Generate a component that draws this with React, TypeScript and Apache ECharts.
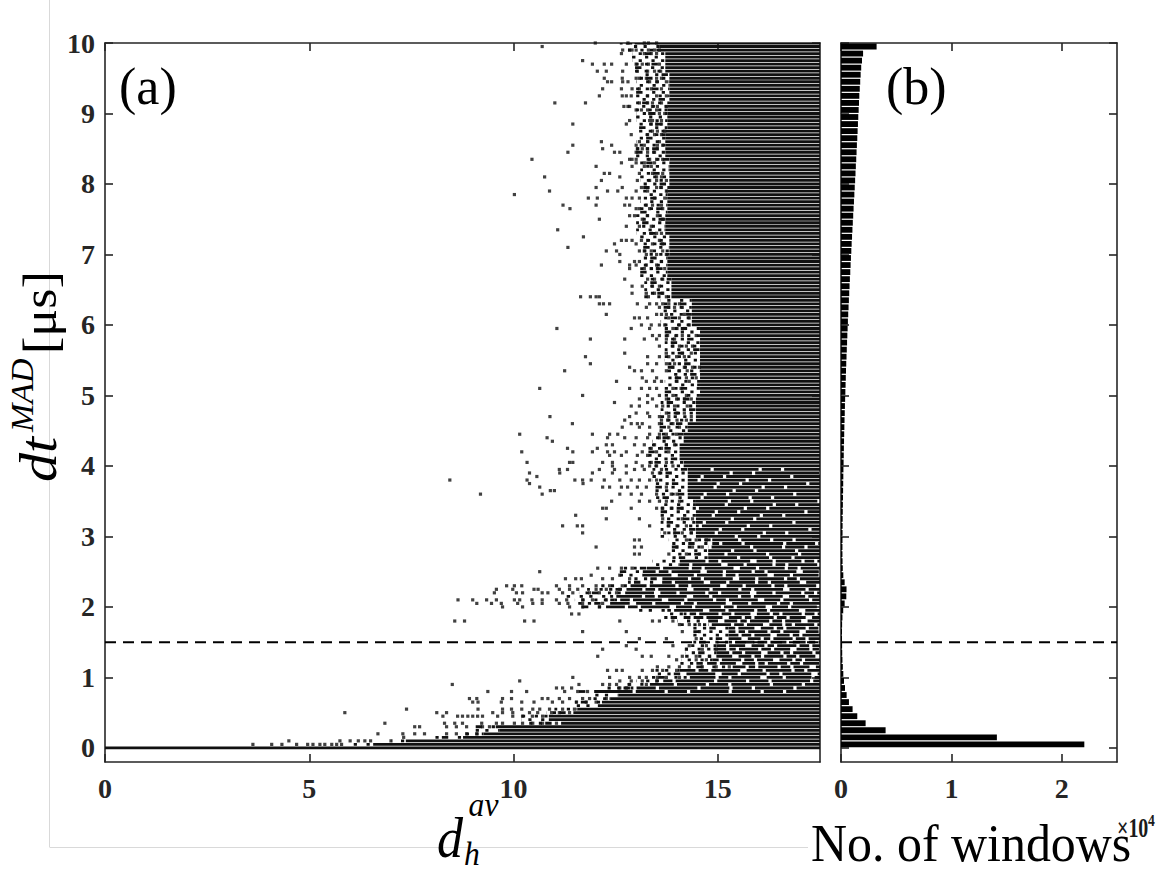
import React, { useEffect, useRef } from "react";
import * as echarts from "echarts";

// ---------- axis ticks ----------
const yTicks = [0, 1, 2, 3, 4, 5, 6, 7, 8, 9, 10];
const xTicksA = [0, 5, 10, 15];
const xTicksB = [0, 10000, 20000];
const X_MAX_A = 17.5;
const X_MAX_B = 25000;
const Y_MIN = -0.2;
const Y_MAX = 10;
const threshold = 1.5;

// ---------- panel (a): dense block, left edge per dt level (step function) ----------
const ROW = 0.05; // dt resolution of the data (rows of the dense block)
const denseY = [
  0.0, 0.05, 0.1, 0.15, 0.2, 0.25, 0.3, 0.35, 0.4, 0.5, 0.55, 0.6, 0.65, 0.7, 0.75, 0.8, 0.85, 0.9,
  0.95, 1.0, 1.1, 1.15, 1.2, 1.25, 1.3, 1.5, 1.75, 1.85, 1.95, 2.0, 2.05, 2.1, 2.15, 2.2, 2.25,
  2.3, 2.35, 2.45, 2.55, 2.6, 2.7, 2.9, 3.0, 3.55, 4.0, 4.1, 4.35, 4.5, 4.65, 5.0, 6.0, 6.4, 6.7,
  7.0, 7.3, 7.6, 8.0, 8.4, 8.8, 9.2, 9.6, 9.9, 10.0,
];
// left edge of the (nearly) fully occupied block
const denseX = [
  0.0, 6.6, 7.4, 8.8, 9.3, 9.7, 9.6, 11.2, 10.9, 11.5, 11.6, 12.1, 12.2, 12.4, 12.6, 12.0, 12.9, 13.4,
  13.7, 14.2, 14.1, 15.4, 14.7, 14.9, 15.0, 15.3, 14.8, 14.2, 13.8, 12.3, 12.4, 12.5, 12.4, 12.7, 12.8,
  12.9, 13.6, 13.2, 13.3, 14.1, 14.8, 14.9, 14.5, 14.3, 14.2, 14.1, 14.2, 14.3, 14.5, 14.6, 14.4, 13.9, 13.8,
  13.85, 13.75, 13.8, 13.85, 13.75, 13.8, 13.85, 13.75, 13.6, 13.0,
];
// left edge of the partly occupied margin in front of the block
const mixedX = [
  0.0, 6.0, 7.0, 8.0, 8.6, 9.0, 9.0, 10.3, 10.2, 10.8, 11.0, 11.4, 11.5, 11.8, 12.0, 11.6, 12.3, 12.7,
  13.0, 13.3, 13.4, 14.4, 14.0, 14.1, 14.2, 14.4, 14.0, 13.6, 13.0, 11.6, 11.5, 11.5, 11.3, 11.6, 11.8,
  12.0, 12.8, 12.6, 12.7, 13.4, 13.8, 13.8, 13.6, 13.4, 13.3, 13.3, 13.4, 13.5, 13.6, 13.7, 13.6, 13.2, 13.1,
  13.1, 13.0, 13.1, 13.1, 13.0, 13.0, 13.0, 12.9, 12.8, 12.6,
];
// share of the block that is occupied (the rest are empty cells) in each band
const denseFill = [
  1, 1, 1, 1, 1, 1, 1, 1, 1, 1, 1, 1, 1, 1, 1, 0.9, 0.9, 0.9,
  0.9, 0.85, 0.85, 0.75, 0.75, 0.75, 0.75, 0.75, 0.75, 0.75, 0.85, 0.85, 0.85, 0.85, 0.85, 0.85, 0.85,
  0.85, 0.85, 0.85, 0.85, 0.85, 0.9, 0.9, 0.95, 0.95, 1, 1, 1, 1, 1, 1, 1, 1, 1,
  1, 1, 1, 1, 1, 1, 1, 1, 1, 1,
];

// ---------- panel (a): scattered windows outside the dense block [dt, d_h values] ----------
const fringe: [number, number[]][] = [
  [10.0, [12.0, 12.8, 13.2, 13.3, 13.5]],
  [9.95, [10.7]],
  [9.9, [12.67, 12.84, 12.9, 13.0, 13.3, 13.45, 13.57]],
  [9.85, [12.64, 13.2, 13.37, 13.5]],
  [9.75, [11.69]],
  [9.7, [11.93, 12.22, 12.4, 12.76, 13.0, 13.15, 13.3, 13.57]],
  [9.6, [12.05, 12.27, 12.67, 13.03, 13.28, 13.45, 13.6]],
  [9.5, [12.22, 12.66, 13.0, 13.08, 13.25, 13.5, 13.62]],
  [9.45, [12.3, 12.4, 12.67, 12.8, 13.33, 13.5, 13.74]],
  [9.35, [12.18, 12.64, 12.9, 13.08, 13.37, 13.62]],
  [9.25, [12.1, 12.66, 12.76, 12.88, 13.28, 13.5, 13.74]],
  [9.15, [11.01, 11.76, 13.08, 13.28, 13.4, 13.62]],
  [9.1, [12.7, 12.8, 12.84, 13.4, 13.52, 13.74]],
  [9.05, [13.0, 13.13, 13.28, 13.5]],
  [9.0, [13.33, 13.57, 13.7]],
  [8.9, [12.84, 13.33, 13.4, 13.62]],
  [8.85, [11.45, 12.76, 13.37, 13.5, 13.62]],
  [8.75, [13.4, 13.52, 13.7]],
  [8.7, [12.88, 13.28, 13.45, 13.62]],
  [8.6, [12.15, 13.08, 13.28, 13.57]],
  [8.55, [11.45, 12.4, 13.0, 13.2, 13.52, 13.65]],
  [8.5, [12.18, 13.03, 13.15, 13.28, 13.52]],
  [8.45, [11.33, 12.47, 12.6, 13.0, 13.28, 13.45]],
  [8.35, [10.45, 12.84, 12.9, 13.0, 13.33, 13.5, 13.65]],
  [8.3, [12.64, 13.0, 13.2, 13.45]],
  [8.25, [12.02, 12.9, 13.2, 13.37]],
  [8.15, [12.22, 12.35, 13.08, 13.4, 13.65]],
  [8.1, [10.76, 12.6, 13.5, 13.62]],
  [8.05, [12.15, 13.03, 13.33, 13.5, 13.74]],
  [7.95, [12.02, 12.66, 13.13, 13.5, 13.62]],
  [7.9, [10.88, 12.3, 12.55, 13.0, 13.28, 13.74]],
  [7.85, [10.02]],
  [7.8, [11.83, 12.05, 12.76, 12.9, 13.08, 13.45, 13.7]],
  [7.7, [11.21, 12.02, 12.72, 12.84, 13.25, 13.4, 13.62]],
  [7.65, [11.38, 13.0, 13.08, 13.33, 13.65]],
  [7.55, [12.84, 12.96, 13.28, 13.52]],
  [7.5, [12.1, 13.15, 13.65]],
  [7.4, [12.76, 13.08, 13.37]],
  [7.35, [11.08]],
  [7.3, [13.37, 13.5, 13.62]],
  [7.25, [11.71]],
  [7.2, [12.64, 12.76, 12.9, 13.13, 13.28, 13.57]],
  [7.15, [12.47, 13.0, 13.4, 13.65]],
  [7.1, [11.33]],
  [7.05, [12.27, 12.52, 13.08, 13.2, 13.37, 13.65]],
  [7.0, [12.6, 13.25, 13.5, 13.74]],
  [6.9, [12.6, 12.96, 13.08, 13.37, 13.62]],
  [6.85, [12.15, 12.84, 13.0, 13.25, 13.5]],
  [6.8, [12.84, 13.2, 13.37, 13.52, 13.7]],
  [6.65, [12.72, 13.28, 13.45, 13.65]],
  [6.55, [12.9, 13.15, 13.4, 13.57]],
  [6.45, [12.9, 13.25, 13.45, 13.65]],
  [6.4, [11.64, 11.88, 12.02, 12.1, 13.3, 13.74]],
  [6.3, [12.1, 12.2, 12.35, 13.03, 13.33, 13.5, 13.65, 13.8, 14.06]],
  [6.25, [13.25, 13.57, 13.8, 13.94, 14.13]],
  [6.15, [12.27, 13.5, 13.62, 13.74, 14.18]],
  [6.1, [12.96, 13.08, 13.28, 13.8, 14.06, 14.3]],
  [6.0, [13.13, 13.37, 13.57, 13.7, 14.06, 14.3]],
  [5.95, [11.06, 12.88, 13.33, 13.9, 14.0, 14.18]],
  [5.85, [13.4, 13.57, 13.77, 13.99, 14.13, 14.47]],
  [5.8, [11.88, 12.72, 13.2, 13.5, 13.74, 13.94]],
  [5.7, [13.57, 13.9, 14.06, 14.23, 14.38]],
  [5.6, [12.72, 13.74, 14.13, 14.35]],
  [5.55, [11.76, 13.28, 13.57, 13.8, 13.99, 14.18]],
  [5.45, [11.88, 13.28, 13.5, 13.74, 13.94]],
  [5.4, [12.84, 13.9, 14.18, 14.38, 14.55]],
  [5.35, [11.25, 12.96, 13.13, 13.4, 13.74, 14.06, 14.25]],
  [5.25, [13.15, 13.5, 13.99, 14.23, 14.47]],
  [5.2, [12.52, 13.25, 13.45, 13.62, 14.0, 14.3]],
  [5.1, [10.64, 12.84, 13.13, 13.33, 13.5, 13.9, 14.1]],
  [5.0, [11.69, 13.28, 13.57, 13.9, 14.23]],
  [4.95, [13.08, 13.4, 13.74, 13.99, 14.18, 14.35]],
  [4.9, [12.47, 13.28, 13.8]],
  [4.85, [12.88, 13.08, 13.5, 13.65, 13.94, 14.25]],
  [4.75, [13.0, 13.28, 13.74, 14.0, 14.18]],
  [4.7, [10.89, 12.84, 13.33, 13.57, 13.8, 14.35]],
  [4.65, [12.72, 13.62, 13.77, 14.0, 14.23]],
  [4.6, [11.44, 12.88, 13.03, 13.15, 13.57, 13.9]],
  [4.55, [12.66, 13.08, 13.33, 13.8, 14.06]],
  [4.45, [10.15, 11.93, 12.35, 12.55, 13.33, 13.57, 13.74, 13.99]],
  [4.4, [10.82, 12.3, 12.72, 13.0, 13.28, 13.57, 13.8]],
  [4.35, [10.95]],
  [4.3, [12.27, 12.42, 12.96, 13.2, 13.45, 13.74, 13.94]],
  [4.25, [11.32, 12.05, 13.37, 13.62]],
  [4.2, [10.2, 11.45, 11.93, 12.3, 12.47, 12.76, 13.15, 13.5, 13.8]],
  [4.15, [12.35, 12.64, 13.03, 13.28, 13.57]],
  [4.05, [10.33, 11.37, 11.45, 12.18, 12.42, 13.0, 13.37, 13.74]],
  [4.0, [12.42, 12.76, 13.15, 13.33, 13.5, 13.9]],
  [3.95, [11.12, 11.32, 12.1, 12.47, 12.96, 13.2, 13.62]],
  [3.9, [10.39, 11.13, 11.93, 12.42, 12.76, 13.4, 13.57]],
  [3.85, [10.57]],
  [3.8, [8.44, 10.33, 11.5, 11.69, 11.9, 12.22, 12.6, 12.88, 13.08, 13.33, 13.5]],
  [3.75, [10.39, 11.7]],
  [3.7, [10.64, 12.18, 12.35, 12.64, 12.79, 13.03, 13.25, 13.74]],
  [3.65, [10.9, 11.0]],
  [3.6, [9.19, 10.7, 12.6, 12.88, 13.13, 13.5, 13.86, 14.0]],
  [3.5, [12.4, 13.08, 13.33, 13.57, 13.74, 14.06]],
  [3.4, [12.18, 12.27, 12.88, 13.5, 13.65, 13.86, 14.13]],
  [3.3, [11.52]],
  [3.25, [12.27, 13.08, 13.65, 14.13, 14.38]],
  [3.15, [11.2, 11.56, 11.69, 13.33, 13.8, 14.0, 14.23]],
  [3.05, [11.69, 13.7, 13.94, 14.13, 14.35]],
  [2.95, [12.96, 13.08, 14.23, 14.47, 14.72]],
  [2.85, [12.02, 12.96, 13.13, 14.0, 14.38, 14.62]],
  [2.75, [12.96, 13.08, 13.8, 14.23, 14.55]],
  [2.55, [12.06, 12.35, 12.64, 12.9]],
  [2.5, [10.64]],
  [2.45, [11.9, 12.6]],
  [2.4, [11.27, 11.52, 11.66, 12.18, 12.42, 12.84]],
  [2.3, [9.83, 10.02, 10.2, 11.05, 11.37, 11.69, 12.02, 12.35, 12.66]],
  [2.25, [9.58, 9.98, 10.5, 10.6, 11.12, 11.37, 11.57, 12.02, 12.27, 12.6]],
  [2.2, [9.53, 10.07, 10.22, 10.7, 10.84, 11.2, 11.45, 11.86, 12.1, 12.52]],
  [2.1, [8.64, 9.0, 9.34, 9.58, 10.02, 10.15, 10.45, 10.7, 11.05, 11.3, 11.69, 11.93, 12.27]],
  [2.05, [9.1, 9.46, 9.7, 10.1, 10.47, 10.7, 11.12, 11.33, 11.69, 12.18]],
  [2.0, [9.73, 10.22, 11.37, 11.69, 12.1]],
  [1.9, [11.42, 11.6]],
  [1.8, [8.56, 8.8, 10.27, 10.5, 12.6, 13.4, 13.57, 13.9]],
  [1.75, [14.06, 14.3, 14.55]],
  [1.65, [11.69, 12.76, 14.13, 14.55]],
  [1.55, [13.08, 13.74, 14.47]],
  [1.45, [12.76, 13.9, 14.3, 14.72]],
  [1.4, [12.18, 13.0, 14.23, 14.62, 14.96]],
  [1.3, [12.06, 13.15, 13.37, 13.8, 14.13, 14.47, 14.8]],
  [1.25, [13.99, 14.47, 14.72]],
  [1.15, [13.52, 13.8, 14.06, 14.3, 14.62, 14.96, 15.28]],
  [1.1, [12.3, 12.52, 12.66, 13.15, 13.4, 13.65, 13.99]],
  [1.0, [11.45, 12.35, 12.84, 13.08, 13.25, 13.52, 13.74, 14.06]],
  [0.95, [10.15, 12.6, 12.88, 13.15, 13.5]],
  [0.9, [8.5, 11.6, 12.18, 12.35, 12.52, 12.84, 13.25]],
  [0.85, [11.05, 11.2, 11.42, 12.6, 12.76]],
  [0.8, [9.37, 9.95, 10.32, 11.25, 11.57, 11.81]],
  [0.7, [8.92, 9.1, 9.73, 9.95, 10.7, 10.84, 11.12, 11.37, 11.69, 11.86, 12.27]],
  [0.65, [9.0, 9.13, 9.7, 10.2, 10.5, 10.95, 11.2, 11.54, 11.78, 12.02]],
  [0.55, [7.38, 9.13, 9.73, 9.95, 10.2, 10.47, 10.64, 10.88, 11.2, 11.49]],
  [0.5, [5.87, 8.12, 8.36, 9.49, 9.73, 9.98, 10.39, 10.59, 10.93, 11.12, 11.37]],
  [0.45, [8.27, 8.63, 8.75, 8.88, 9.0, 9.12, 9.24, 9.61, 9.98, 10.22, 10.46, 10.71]],
  [0.35, [6.85, 8.31, 8.56, 8.75, 9.22, 9.58, 9.73, 10.02, 10.22, 10.47, 10.71, 11.05]],
  [0.3, [7.58, 7.7, 8.36, 8.6, 8.85, 9.24, 9.41]],
  [0.2, [6.68, 7.29, 7.58, 7.82, 8.36, 8.6, 8.85, 9.1]],
  [0.15, [7.31]],
  [0.1, [4.5, 5.75, 6.0, 6.2, 6.36, 6.5, 7.0]],
  [0.05, [3.62, 4.08, 4.33, 4.69, 4.96, 5.09, 5.26, 5.38, 5.55, 5.67, 5.79]],
];

// ---------- panel (b): histogram of dt^MAD, bins of 0.1 µs from 0 ----------
const HIST_W = 0.1;
const histCounts = [
  22040, 14120, 4040, 2230, 1475, 1050, 720, 510, 360, 270,
  210, 165, 130, 110, 100, 90, 90, 100, 130, 200,
  330, 480, 500, 330, 210, 160, 140, 130, 130, 135,
  140, 145, 150, 160, 170, 180, 190, 200, 210, 220,
  235, 250, 260, 275, 290, 305, 320, 340, 355, 375,
  395, 415, 435, 455, 475, 500, 525, 550, 575, 600,
  625, 655, 685, 715, 745, 775, 805, 840, 870, 900,
  935, 965, 1000, 1035, 1070, 1105, 1140, 1175, 1210, 1245,
  1280, 1315, 1345, 1380, 1410, 1440, 1475, 1505, 1535, 1565,
  1600, 1630, 1660, 1700, 1740, 1780, 1830, 1900, 2000, 3225,
];

const AXIS_COLOR = "#262626";
const DOT = "#111111";
const SERIF = '"Liberation Serif", "Times New Roman", serif';
const CELL = 3.2; // pixel width of one marker cell

// irregular on/off cell patterns used to render partly occupied rows
const PATTERNS: [number, number[]][] = [
  [0.35, [1, 2, 1, 1, 2, 3, 1, 2, 1, 3]],
  [0.75, [4, 1, 2, 1, 6, 1, 3, 1, 5, 2]],
  [0.85, [5, 1, 8, 1, 3, 1, 9, 2]],
  [0.9, [9, 1, 6, 1, 12, 1]],
  [0.95, [9, 1, 14, 1, 6, 1, 20, 1]],
];

function patternFor(fill: number) {
  let best = PATTERNS[0];
  PATTERNS.forEach((p) => {
    if (Math.abs(p[0] - fill) < Math.abs(best[0] - fill)) best = p;
  });
  return best[1].map((c) => c * CELL);
}

function axisBase(extra: any) {
  return {
    axisLine: { show: true, onZero: false, lineStyle: { color: AXIS_COLOR, width: 1.6 } },
    splitLine: { show: false },
    ...extra,
  };
}

function txt(text: string, x: number, y: number, size: number, opts: any = {}) {
  return {
    type: "text",
    x,
    y,
    scaleX: opts.scaleX ?? 1,
    style: {
      text,
      font: `${opts.italic ? "italic " : ""}${opts.bold ? "bold " : ""}${size}px "Liberation Serif", serif`,
      fill: opts.color ?? "#000",
      textAlign: "left",
      textVerticalAlign: opts.va ?? "bottom",
    },
    z: 10,
  };
}

export default function App() {
  const ref = useRef<HTMLDivElement>(null);

  useEffect(() => {
    if (!ref.current) return;
    const chart = echarts.init(ref.current, null, { renderer: "svg" });

    const scatterData: number[][] = [];
    fringe.forEach(([y, xs]) => xs.forEach((x) => scatterData.push([x, y])));

    const denseData = denseY.map((y, i) => [
      denseX[i],
      y,
      i + 1 < denseY.length ? denseY[i + 1] : Y_MAX + ROW,
      denseFill[i],
      mixedX[i],
    ]);

    const histData = histCounts.map((c, i) => [i * HIST_W, (i + 1) * HIST_W, c]);

    const labelStyle = {
      fontFamily: SERIF,
      fontWeight: "bold",
      fontSize: 28,
      color: AXIS_COLOR,
    };
    const tickStyle = { show: true, inside: true, length: 8, lineStyle: { color: AXIS_COLOR, width: 1.6 } };

    const option: any = {
      animation: false,
      backgroundColor: "#ffffff",
      grid: [
        { left: 105, top: 43, width: 715, height: 719 },
        { left: 841, top: 43, width: 276, height: 719 },
      ],
      xAxis: [
        axisBase({
          type: "value", gridIndex: 0, position: "bottom", min: 0, max: X_MAX_A,
          axisTick: { ...tickStyle, customValues: xTicksA },
          axisLabel: { ...labelStyle, margin: 12, customValues: xTicksA },
        }),
        axisBase({
          type: "value", gridIndex: 0, position: "top", min: 0, max: X_MAX_A,
          axisTick: { ...tickStyle, customValues: xTicksA },
          axisLabel: { show: false },
        }),
        axisBase({
          type: "value", gridIndex: 1, position: "bottom", min: 0, max: X_MAX_B,
          axisTick: { ...tickStyle, customValues: xTicksB },
          axisLabel: { ...labelStyle, margin: 12, customValues: xTicksB, formatter: (v: number) => String(v / 10000) },
        }),
        axisBase({
          type: "value", gridIndex: 1, position: "top", min: 0, max: X_MAX_B,
          axisTick: { ...tickStyle, customValues: xTicksB },
          axisLabel: { show: false },
        }),
      ],
      yAxis: [
        axisBase({
          type: "value", gridIndex: 0, position: "left", min: Y_MIN, max: Y_MAX,
          axisTick: { ...tickStyle, customValues: yTicks },
          axisLabel: { ...labelStyle, margin: 10, customValues: yTicks },
        }),
        axisBase({
          type: "value", gridIndex: 0, position: "right", min: Y_MIN, max: Y_MAX,
          axisTick: { ...tickStyle, customValues: yTicks },
          axisLabel: { show: false },
        }),
        axisBase({
          type: "value", gridIndex: 1, position: "left", min: Y_MIN, max: Y_MAX,
          axisTick: { ...tickStyle, customValues: yTicks },
          axisLabel: { show: false },
        }),
        axisBase({
          type: "value", gridIndex: 1, position: "right", min: Y_MIN, max: Y_MAX,
          axisTick: { ...tickStyle, customValues: yTicks },
          axisLabel: { show: false },
        }),
      ],
      series: [
        {
          type: "custom",
          name: "dense",
          xAxisIndex: 0,
          yAxisIndex: 0,
          clip: true,
          silent: true,
          data: denseData,
          renderItem: (params: any, api: any) => {
            const x0 = api.value(0);
            const kA = Math.round(api.value(1) / ROW);
            const kB = Math.round(api.value(2) / ROW);
            const fill = api.value(3);
            const xm = api.value(4);
            const fullPat = patternFor(fill);
            const fullLen = fullPat.reduce((a: number, b: number) => a + b, 0);
            const mixPat = patternFor(0.35);
            const mixLen = mixPat.reduce((a: number, b: number) => a + b, 0);
            const children: any[] = [];
            for (let k = kA; k < kB; k++) {
              const y = k * ROW;
              const p0 = api.coord([x0, y]);
              const p1 = api.coord([X_MAX_A, y]);
              if (fill >= 0.995) {
                children.push({
                  type: "rect",
                  shape: { x: p0[0] - 1.5, y: p0[1] - 1.4, width: p1[0] - p0[0] + 1.5, height: 2.8 },
                  style: { fill: DOT },
                });
              } else {
                children.push({
                  type: "line",
                  shape: { x1: p0[0] - 1.5, y1: p0[1], x2: p1[0], y2: p1[1] },
                  style: {
                    stroke: DOT,
                    lineWidth: 2.8,
                    lineDash: fullPat,
                    lineDashOffset: ((k * 37) % 23) * CELL % fullLen,
                  },
                });
              }
              if (xm < x0 - 0.01) {
                const pm = api.coord([xm, y]);
                children.push({
                  type: "line",
                  shape: { x1: pm[0], y1: pm[1], x2: p0[0] - 1.5, y2: p0[1] },
                  style: {
                    stroke: DOT,
                    lineWidth: 2.8,
                    lineDash: mixPat,
                    lineDashOffset: ((k * 29) % 17) * CELL % mixLen,
                  },
                });
              }
            }
            return { type: "group", children };
          },
          z: 2,
        },
        {
          type: "scatter",
          name: "windows",
          xAxisIndex: 0,
          yAxisIndex: 0,
          data: scatterData,
          symbol: "rect",
          symbolSize: 3.2,
          itemStyle: { color: DOT },
          silent: true,
          z: 3,
        },
        {
          type: "line",
          xAxisIndex: 0,
          yAxisIndex: 0,
          data: [[0, threshold], [X_MAX_A, threshold]],
          symbol: "none",
          silent: true,
          lineStyle: { color: "#000", width: 2, type: [11, 7] },
          z: 5,
        },
        {
          type: "custom",
          name: "hist",
          xAxisIndex: 2,
          yAxisIndex: 2,
          clip: true,
          silent: true,
          data: histData,
          renderItem: (params: any, api: any) => {
            const s = api.value(0);
            const e = api.value(1);
            const c = api.value(2);
            const a = api.coord([0, e]);
            const b = api.coord([c, s]);
            return {
              type: "rect",
              shape: { x: a[0], y: a[1] + 0.6, width: b[0] - a[0], height: b[1] - a[1] - 1.2 },
              style: { fill: "#000000" },
            };
          },
          z: 2,
        },
        {
          type: "line",
          xAxisIndex: 2,
          yAxisIndex: 2,
          data: [[0, threshold], [X_MAX_B, threshold]],
          symbol: "none",
          silent: true,
          lineStyle: { color: "#000", width: 2, type: [11, 7] },
          z: 5,
        },
      ],
      graphic: [
        { type: "line", shape: { x1: 49.5, y1: 0, x2: 49.5, y2: 847 }, style: { stroke: "#d9d9d9", lineWidth: 1 }, silent: true },
        { type: "line", shape: { x1: 49.5, y1: 847.5, x2: 808, y2: 847.5 }, style: { stroke: "#d9d9d9", lineWidth: 1 }, silent: true },
        txt("(a)", 119, 60, 52, { va: "top" }),
        txt("(b)", 886, 60, 52, { va: "top" }),
        {
          type: "group", x: 64, y: 482, rotation: Math.PI / 2, scaleY: 0.92,
          children: [
            txt("dt", 0, 0, 58, { italic: true }),
            txt("MAD", 50, -28, 34, { italic: true }),
            txt("[μs]", 128, 0, 52),
          ],
        },
        {
          type: "group", x: 437, y: 866, scaleX: 0.93,
          children: [
            txt("d", 0, 0, 56, { italic: true }),
            txt("h", 29, 5, 34, { italic: true }),
            txt("av", 34, -44, 34, { italic: true }),
          ],
        },
        txt("No. of windows", 811, 870, 52, { scaleX: 0.96 }),
        {
          type: "group", x: 1117, y: 841,
          children: [
            txt("×10", 0, 0, 27, { bold: true, color: "#1a1a1a", scaleX: 0.74 }),
            txt("4", 31, -12, 16, { bold: true, color: "#1a1a1a", scaleX: 0.85 }),
          ],
        },
      ],
    };

    chart.setOption(option);
    return () => chart.dispose();
  }, []);

  return (
    <div
      ref={ref}
      style={{ position: "fixed", left: 0, top: 0, width: 1162, height: 875, background: "#fff" }}
    />
  );
}
